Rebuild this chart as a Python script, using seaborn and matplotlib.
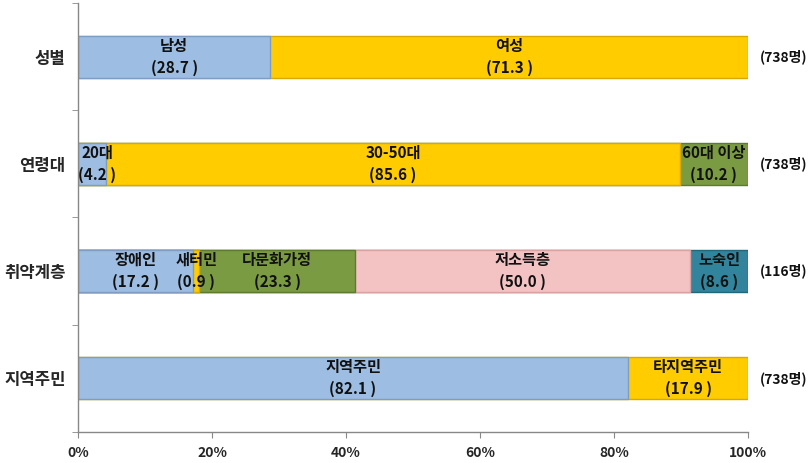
import matplotlib.pyplot as plt
import seaborn as sns
import numpy as np
import pandas as pd

# chart data
categories = ['성별', '연령대', '취약계층', '지역주민']
seg_names = [
    ['남성', '여성'],
    ['20대', '30-50대', '60대 이상'],
    ['장애인', '새터민', '다문화가정', '저소득층', '노숙인'],
    ['지역주민', '타지역주민'],
]
seg_values = [
    [28.7, 71.3],
    [4.2, 85.6, 10.2],
    [17.2, 0.9, 23.3, 50.0, 8.6],
    [82.1, 17.9],
]
counts = ['(738명)', '(738명)', '(116명)', '(738명)']
x_ticks = [0, 20, 40, 60, 80, 100]

colors = ['#9DBDE3', '#FFCC00', '#7B9B42', '#F3C3C3', '#31849B']
edges = ['#7F9DC2', '#D9A900', '#5E7A2E', '#D9A3A3', '#21677A']

sns.set_style('white')
plt.rcParams['font.family'] = ['Noto Sans CJK KR', 'DejaVu Sans']

rows = []
for ci, (cat, vals) in enumerate(zip(categories, seg_values)):
    cum = np.cumsum(vals)
    for k, c in enumerate(cum):
        rows.append({'cat': cat, 'layer': k, 'cum': c})
df = pd.DataFrame(rows)

fig = plt.figure(figsize=(8.12, 4.63), dpi=100)
ax = fig.add_axes([78 / 812, 31 / 463, 670 / 812, 429 / 463])

# stacked bars: draw cumulative totals from the last layer to the first
for k in sorted(df['layer'].unique(), reverse=True):
    sub = df[df['layer'] == k]
    sns.barplot(data=sub, x='cum', y='cat', order=categories, orient='h',
                color=colors[k], edgecolor=edges[k], linewidth=1.0,
                width=0.39, saturation=1, ax=ax)

# segment labels
for ci, (names, vals) in enumerate(zip(seg_names, seg_values)):
    left = 0
    for name, v in zip(names, vals):
        xc = left + v / 2
        if ci == 1 and name == '20대':
            xc = 2.9
        ax.text(xc, ci, f'{name}\n({v:.1f} )', ha='center', va='center',
                fontsize=11, fontweight='bold', color='#111111',
                linespacing=1.45)
        left += v

# sample sizes on the right
for ci, c in enumerate(counts):
    ax.text(105.3, ci, c, ha='center', va='center', fontsize=10,
            fontweight='bold', color='#111111', clip_on=False)

ax.set_xlim(0, 100)
ax.set_ylim(3.5, -0.5)
ax.set_xticks(x_ticks)
ax.set_xticklabels([f'{t}%' for t in x_ticks], fontsize=10, fontweight='bold')
ax.set_yticks(range(len(categories)))
ax.set_yticklabels(categories, fontsize=12, fontweight='bold')
ax.set_yticks(np.arange(-0.5, len(categories), 1.0), minor=True)
ax.tick_params(axis='y', which='major', length=0, pad=9)
ax.tick_params(axis='y', which='minor', length=4, color='#888888', direction='out', left=True)
ax.tick_params(axis='x', length=4, color='#888888', direction='out', bottom=True, pad=6)
ax.set_xlabel('')
ax.set_ylabel('')

for s in ['top', 'right']:
    ax.spines[s].set_visible(False)
for s in ['left', 'bottom']:
    ax.spines[s].set_color('#888888')
    ax.spines[s].set_linewidth(1.0)

fig.savefig('out.png', dpi=100)
